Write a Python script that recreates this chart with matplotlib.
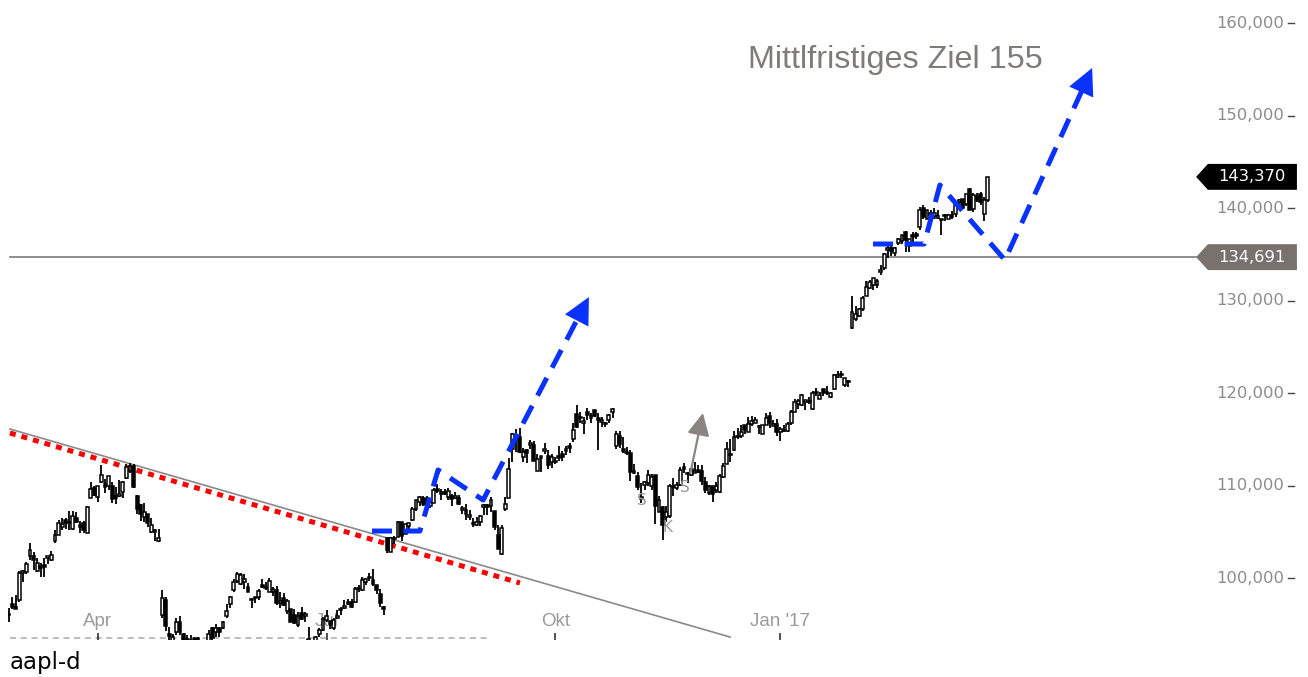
import numpy as np
import matplotlib
matplotlib.use("Agg")
import matplotlib.pyplot as plt
from matplotlib.patches import Polygon

# ---------------- data (AAPL daily, Feb 25 2016 - Mar 28 2017) ----------------
opens = [
96.0, 97.2, 96.9, 97.6, 100.5, 100.6, 102.4, 102.4, 100.8, 101.3,
101.4, 102.2, 101.9, 104.0, 104.6, 105.5, 106.3, 105.9, 105.3, 106.5,
105.5, 106.0, 104.9, 108.6, 109.7, 108.8, 110.4, 110.2, 110.0, 109.95,
108.9, 108.9, 109.3, 110.8, 111.6, 112.1, 108.9, 107.9, 106.6, 106.9,
105.0, 105.0, 104.0, 96.0, 97.6, 94.0, 93.0, 94.2, 95.2, 94.0,
93.4, 93.0, 93.3, 93.5, 92.7, 90.0, 92.4, 94.6, 94.2, 94.6,
94.6, 95.9, 97.2, 98.7, 99.7, 99.4, 99.6, 99.0, 97.6, 97.8,
98.0, 99.25, 99.0, 98.5, 98.5, 98.7, 97.3, 97.8, 96.45, 96.6,
96.0, 94.9, 96.25, 95.9, 92.9, 93.0, 92.9, 94.0, 94.4, 95.5,
95.4, 94.6, 95.7, 96.5, 96.75, 97.2, 97.4, 97.4, 98.9, 98.7,
99.6, 100.0, 99.8, 99.3, 98.25, 96.8, 104.3, 102.8, 104.2, 104.4,
106.05, 104.8, 105.6, 106.3, 107.5, 108.2, 108.7, 108.5, 107.8, 108.1,
109.6, 109.1, 109.2, 108.8, 108.9, 108.6, 108.6, 107.4, 107.4, 106.6,
105.8, 105.7, 106.1, 107.7, 107.9, 107.8, 107.25, 104.6, 102.65, 107.5,
108.7, 113.9, 115.1, 115.2, 113.05, 113.85, 114.35, 114.4, 111.6, 113.0,
113.7, 113.15, 112.5, 112.7, 113.1, 113.4, 113.7, 114.3, 115.0, 117.7,
117.35, 116.8, 117.9, 117.3, 118.2, 117.25, 116.9, 116.8, 117.1, 117.95,
114.3, 115.4, 113.9, 113.65, 113.5, 111.4, 110.98, 108.5, 110.1, 110.3,
109.9, 111.1, 107.1, 107.7, 106.6, 106.7, 109.8, 109.7, 110.1, 111.95,
111.4, 111.1, 111.4, 111.6, 111.6, 110.4, 109.2, 110.0, 109.5, 109.3,
110.9, 112.3, 113.3, 113.8, 115.2, 115.4, 116.5, 115.8, 116.7, 116.8,
116.35, 115.6, 116.5, 117.5, 116.45, 116.65, 115.8, 115.85, 115.9, 116.8,
117.95, 118.8, 118.7, 119.0, 119.1, 118.3, 120.0, 119.4, 120.45, 120.0,
119.55, 120.4, 121.7, 122.1, 120.9, 121.15, 127.0, 127.98, 128.3, 129.1,
130.5, 131.35, 131.65, 131.65, 133.1, 133.5, 135.5, 135.7, 135.1, 136.2,
136.4, 137.4, 135.9, 137.1, 137.1, 137.9, 140.0, 138.8, 139.4, 139.1,
138.95, 138.7, 139.25, 138.85, 139.3, 139.4, 140.7, 141.0, 140.4, 142.1,
139.85, 141.25, 141.5, 139.4, 140.9]

highs = [
96.8, 98.0, 98.2, 100.8, 100.9, 101.7, 103.8, 102.8, 102.2, 101.6,
102.2, 102.3, 102.9, 105.2, 106.3, 106.5, 106.5, 107.3, 107.3, 107.1,
106.2, 106.2, 107.8, 110.4, 110.0, 110.0, 112.2, 110.7, 111.0, 110.4,
109.8, 110.6, 110.5, 112.3, 112.4, 112.3, 108.95, 108.0, 108.1, 106.9,
106.5, 105.3, 105.3, 98.7, 97.9, 94.7, 94.0, 95.7, 95.9, 94.1,
93.8, 93.8, 93.6, 93.6, 92.8, 91.7, 94.4, 94.7, 95.0, 94.7,
95.4, 97.2, 98.1, 99.9, 100.7, 100.5, 100.4, 99.5, 97.8, 98.0,
98.8, 99.9, 99.6, 100.0, 99.0, 99.1, 98.5, 98.4, 97.75, 96.65,
96.6, 96.3, 96.9, 96.3, 94.7, 93.05, 93.7, 94.55, 95.8, 96.5,
95.4, 95.7, 96.5, 96.9, 97.65, 97.7, 97.7, 99.0, 99.3, 100.1,
100.0, 100.5, 101.0, 99.3, 98.8, 97.0, 104.4, 104.45, 104.55, 106.15,
106.1, 105.8, 106.0, 107.65, 108.4, 108.9, 108.9, 108.9, 108.5, 109.7,
110.2, 109.6, 109.6, 109.7, 109.1, 109.3, 108.95, 107.8, 107.95, 107.4,
106.5, 106.6, 106.8, 108.0, 108.0, 108.8, 107.3, 105.7, 105.7, 108.8,
113.0, 115.7, 116.1, 116.2, 114.1, 113.99, 114.9, 114.8, 113.4, 113.2,
114.6, 113.8, 113.4, 113.05, 114.3, 113.7, 114.3, 114.6, 116.75, 118.7,
117.98, 117.4, 118.4, 117.8, 118.2, 117.8, 117.4, 116.9, 117.7, 118.4,
115.9, 115.9, 115.2, 114.2, 113.8, 112.35, 111.5, 110.25, 110.5, 111.7,
111.3, 111.1, 108.9, 107.8, 107.8, 110.2, 110.8, 110.4, 111.99, 112.4,
111.5, 111.9, 112.5, 112.2, 112.2, 110.9, 110.1, 110.0, 110.4, 111.2,
112.4, 114.7, 115.0, 115.9, 116.2, 116.5, 116.5, 117.4, 117.5, 117.4,
116.5, 116.5, 117.8, 118.0, 117.1, 117.2, 116.3, 116.5, 116.9, 118.2,
119.4, 119.4, 119.9, 119.3, 119.6, 120.2, 120.5, 120.1, 120.45, 120.8,
120.1, 122.1, 122.4, 122.35, 121.6, 121.4, 130.5, 129.4, 129.2, 130.5,
132.1, 132.2, 132.45, 132.3, 133.8, 135.1, 136.3, 136.0, 135.8, 136.75,
137.1, 137.5, 136.7, 137.4, 137.4, 140.15, 140.3, 139.8, 139.8, 139.98,
139.8, 138.8, 139.36, 139.4, 139.65, 140.75, 141.0, 141.0, 141.5, 142.2,
141.6, 141.6, 141.75, 141.2, 143.4]

lows = [
95.3, 96.6, 96.6, 97.4, 99.6, 100.4, 101.9, 100.9, 100.6, 100.1,
100.1, 101.5, 101.8, 103.8, 104.6, 105.2, 105.3, 105.2, 105.2, 105.9,
104.9, 104.9, 104.9, 108.6, 108.9, 108.2, 110.3, 109.2, 109.5, 108.1,
108.0, 108.8, 108.7, 110.7, 111.4, 109.7, 106.9, 106.2, 106.1, 105.5,
104.9, 104.0, 103.9, 95.7, 94.3, 92.5, 92.0, 93.8, 93.8, 92.7,
92.5, 92.1, 92.5, 92.5, 89.5, 90.0, 91.6, 93.0, 93.6, 93.6,
94.5, 95.7, 96.8, 98.5, 99.5, 99.2, 98.8, 98.5, 96.8, 97.3,
97.6, 98.9, 98.7, 98.5, 98.1, 97.1, 96.75, 97.0, 96.1, 95.3,
95.0, 94.7, 95.45, 95.25, 92.65, 91.5, 92.5, 93.6, 94.3, 95.3,
94.5, 94.4, 95.6, 96.0, 96.7, 97.1, 96.8, 97.3, 98.5, 98.6,
99.3, 99.7, 99.1, 98.3, 96.9, 96.0, 102.75, 102.8, 103.7, 104.4,
104.0, 104.8, 105.3, 106.2, 107.2, 107.8, 107.8, 107.7, 107.6, 108.1,
109.2, 108.4, 109.0, 108.4, 107.8, 108.5, 107.9, 106.9, 106.3, 106.3,
105.5, 105.6, 105.6, 106.8, 106.8, 107.1, 105.2, 103.1, 102.5, 107.2,
108.6, 112.5, 113.6, 113.55, 112.5, 112.4, 114.0, 112.6, 111.55, 111.5,
113.4, 111.8, 111.9, 112.3, 112.6, 112.7, 113.3, 113.5, 114.7, 116.2,
116.75, 115.6, 117.1, 116.8, 117.45, 113.8, 116.3, 116.3, 116.8, 117.3,
114.0, 114.1, 113.5, 113.3, 110.5, 111.2, 109.55, 108.1, 109.5, 110.0,
109.5, 105.8, 107.1, 104.1, 106.1, 106.5, 108.9, 109.5, 110.0, 111.4,
110.3, 111.0, 111.4, 111.4, 110.1, 109.2, 109.0, 108.25, 109.2, 109.2,
110.8, 112.3, 112.5, 113.75, 114.98, 115.1, 115.6, 115.75, 116.4, 116.8,
115.6, 115.6, 116.5, 116.2, 116.4, 115.4, 114.8, 115.75, 115.8, 116.5,
117.9, 118.3, 118.6, 118.2, 118.8, 118.2, 119.7, 119.4, 119.7, 119.8,
119.5, 120.3, 121.6, 121.6, 120.7, 120.6, 126.9, 127.8, 128.2, 128.9,
130.45, 131.2, 131.1, 131.4, 132.75, 133.25, 134.6, 134.8, 134.8, 135.98,
136.1, 135.3, 135.3, 136.3, 136.7, 137.6, 138.8, 138.8, 138.6, 138.8,
138.8, 137.05, 138.6, 138.8, 138.84, 139.0, 140.3, 139.9, 140.2, 139.8,
139.6, 140.6, 140.35, 138.6, 140.6]

closes = [
96.1, 96.9, 96.7, 100.5, 100.75, 101.5, 103.0, 101.9, 101.6, 101.1,
101.2, 102.3, 102.5, 104.6, 106.0, 105.8, 105.9, 105.9, 106.7, 106.1,
105.7, 105.2, 107.7, 109.6, 109.0, 110.0, 111.1, 109.8, 111.0, 108.5,
108.7, 109.0, 110.4, 112.0, 112.1, 109.85, 107.5, 106.9, 107.1, 106.0,
105.7, 105.1, 104.35, 97.8, 94.8, 93.7, 93.6, 95.2, 94.2, 93.2,
92.7, 92.8, 93.4, 92.5, 90.3, 90.5, 93.9, 93.5, 94.6, 94.2,
95.2, 96.4, 97.9, 99.6, 100.4, 100.35, 99.9, 98.5, 97.7, 97.9,
98.6, 99.0, 98.9, 99.65, 98.8, 97.3, 97.5, 97.1, 97.55, 95.3,
95.1, 95.9, 95.55, 96.1, 93.4, 92.0, 93.6, 94.4, 95.6, 95.9,
95.0, 95.5, 95.9, 96.7, 97.0, 97.4, 96.9, 98.8, 98.8, 99.8,
99.9, 100.0, 99.4, 98.7, 97.3, 96.7, 103.0, 104.3, 104.2, 106.05,
104.5, 105.8, 105.9, 107.5, 108.4, 108.8, 108.0, 107.9, 108.2, 109.5,
109.4, 109.2, 109.1, 109.4, 108.5, 108.85, 108.0, 107.6, 106.9, 106.8,
106.0, 106.1, 106.7, 107.7, 107.7, 108.4, 105.5, 103.1, 105.4, 107.95,
111.8, 115.6, 114.9, 113.6, 113.6, 113.55, 114.6, 112.7, 112.9, 113.1,
113.95, 112.2, 113.05, 112.5, 113.0, 113.05, 113.9, 114.06, 116.05, 116.3,
117.3, 117.0, 117.6, 117.55, 117.5, 117.1, 117.06, 116.6, 117.65, 118.25,
115.6, 114.5, 113.7, 113.5, 111.5, 111.6, 109.8, 108.8, 110.4, 111.1,
110.9, 107.8, 108.4, 105.7, 107.1, 110.0, 109.95, 110.06, 111.7, 111.8,
111.2, 111.8, 111.6, 111.5, 110.5, 109.5, 109.9, 109.1, 109.95, 111.0,
112.1, 114.0, 113.3, 115.2, 115.2, 115.8, 116.0, 116.6, 116.95, 117.06,
116.3, 116.5, 117.3, 116.8, 116.7, 115.8, 116.15, 116.0, 116.6, 117.9,
119.0, 119.1, 119.75, 119.25, 119.0, 120.0, 120.0, 119.8, 120.0, 120.1,
120.0, 121.9, 121.9, 121.95, 121.6, 121.35, 128.75, 128.5, 129.1, 130.3,
131.5, 132.0, 132.4, 132.1, 133.3, 135.0, 135.5, 135.35, 135.7, 136.7,
137.1, 136.5, 136.7, 136.9, 137.0, 139.8, 139.0, 139.8, 139.3, 139.5,
139.0, 138.7, 139.1, 139.2, 139.0, 140.5, 140.7, 140.0, 141.5, 139.8,
141.4, 140.9, 140.6, 140.9, 143.37]

month_ticks = [25, 89, 153, 216]
month_labels = ["Apr", "Jul", "Okt", "Jan '17"]
price_ticks = [100, 110, 120, 130, 140, 150, 160]

last_price = 143.370
support_level = 134.691
title_text = "Mittlfristiges Ziel 155"
symbol_text = "aapl-d"

# drawn annotations (index, price)
blue_path1_x = [101.7, 115.1, 120.2, 132.8, 162.4]
blue_path1_y = [105.08, 105.08, 111.68, 108.43, 130.38]
blue_path2_x = [241.9, 256.2, 260.6, 278.8, 303.2]
blue_path2_y = [136.11, 136.11, 142.49, 134.38, 155.14]
red_trend_x = [0.4, 143.1]
red_trend_y = [115.68, 99.46]
gray_trend_x = [0.4, 201.9]
gray_trend_y = [116.11, 93.62]
gray_arrow_x = [190.8, 194.3]
gray_arrow_y = [111.35, 117.84]
marks = [("S", 177.3, 108.4), ("S", 189.3, 109.8), ("K", 184.5, 105.5)]

# ---------------- figure ----------------
W, H = 1308, 677
fig = plt.figure(figsize=(W / 100, H / 100), dpi=100)
ax = fig.add_axes([8 / W, 37 / H, 1300 / W, 640 / H])
ax.set_xlim(-0.14, 363.6)
ax.set_ylim(93.30, 162.49)
for s in ax.spines.values():
    s.set_visible(False)
ax.set_yticks([])
ax.set_xticks(month_ticks)
ax.tick_params(axis="x", direction="in", length=5, width=1.1, color="#222222",
               labelbottom=False)

BLUE = "#0a32ff"
GRAY_TXT = "#8c8c8c"

# month labels
for t, lab in zip(month_ticks, month_labels):
    ax.text(t, 95.25, lab, ha="center", va="center", fontsize=13.5,
            family="Liberation Sans", color="#9a9a9a", zorder=1)

# dashed baseline
ax.plot([0.4, 134.7], [93.5, 93.5], color="#aaaaaa", lw=1.1,
        dashes=(4, 3), zorder=1)

# support line
ax.plot([0.4, 332.3], [support_level, support_level], color="#7a7a7a",
        lw=1.2, zorder=2)

# red dotted trend line + gray trend line
ax.plot(red_trend_x, red_trend_y, color="#ff0000", lw=3.6,
        dashes=(1.2, 1.2), solid_capstyle="butt", zorder=2)
ax.plot(gray_trend_x, gray_trend_y, color="#8a8a8a", lw=1.2, zorder=2)

# candles
x = np.arange(len(closes))
o = np.array(opens)
c = np.array(closes)
h = np.maximum(np.array(highs), np.maximum(o, c))
l = np.minimum(np.array(lows), np.minimum(o, c))
ax.vlines(x, l, h, color="black", lw=1.3, zorder=3)
up = c >= o
body_lo = np.minimum(o, c)
body_h = np.maximum(np.abs(c - o), 0.15)
ax.bar(x[up], body_h[up], bottom=body_lo[up], width=0.8, color="white",
       edgecolor="black", linewidth=1.1, zorder=4)
ax.bar(x[~up], body_h[~up], bottom=body_lo[~up], width=0.8, color="black",
       edgecolor="black", linewidth=1.1, zorder=4)

# S/K marks
for txt, mx, my in marks:
    ax.text(mx, my, txt, ha="center", va="center", fontsize=11,
            color="#999999", zorder=5)

# gray arrow
ax.annotate("", xy=(gray_arrow_x[1], gray_arrow_y[1]),
            xytext=(gray_arrow_x[0], gray_arrow_y[0]),
            arrowprops=dict(arrowstyle="-|>,head_length=0.8,head_width=0.4",
                            mutation_scale=17, color="#8a8580", lw=1.6,
                            shrinkA=0, shrinkB=0), zorder=5)


def blue_arrow(px, py):
    ax.plot(px[:-1] + [px[-1] - 0.1 * (px[-1] - px[-2])],
            py[:-1] + [py[-1] - 0.1 * (py[-1] - py[-2])],
            color=BLUE, lw=3.6, dashes=(4, 2.3), zorder=6)
    ax.annotate("", xy=(px[-1], py[-1]),
                xytext=(px[-1] - 0.2 * (px[-1] - px[-2]),
                        py[-1] - 0.2 * (py[-1] - py[-2])),
                arrowprops=dict(arrowstyle="-|>,head_length=1.0,head_width=0.5",
                                mutation_scale=19, color=BLUE, lw=0,
                                shrinkA=0, shrinkB=0), zorder=6)


blue_arrow(blue_path1_x, blue_path1_y)
blue_arrow(blue_path2_x, blue_path2_y)

# y labels on the right
for v in price_ticks:
    ax.text(356.9, v, f"{v:.3f}".replace(".", ","), ha="right", va="center",
            fontsize=11.8, color=GRAY_TXT, zorder=5)
    ax.plot([358.0, 359.6], [v, v], color="#444444", lw=1.0, zorder=5)


def tag(value, fc):
    half = 1.40
    poly = Polygon([[332.3, value], [335.6, value + half], [360.5, value + half],
                    [360.5, value - half], [335.6, value - half]],
                   closed=True, fc=fc, ec="none", zorder=7)
    ax.add_patch(poly)
    ax.text(347.9, value, f"{value:.3f}".replace(".", ","), ha="center",
            va="center", fontsize=11.8, color="white", zorder=8)


tag(last_price, "black")
tag(support_level, "#78716d")

# title
fig.text(748 / W, 1 - 60 / H, title_text, ha="left", va="center",
         fontsize=23.3, family="Liberation Sans", color="#7f7b79")
fig.text(10 / W, 1 - 662 / H, symbol_text, ha="left", va="center",
         fontsize=16.5, color="black")

fig.savefig("out.png", dpi=100)
